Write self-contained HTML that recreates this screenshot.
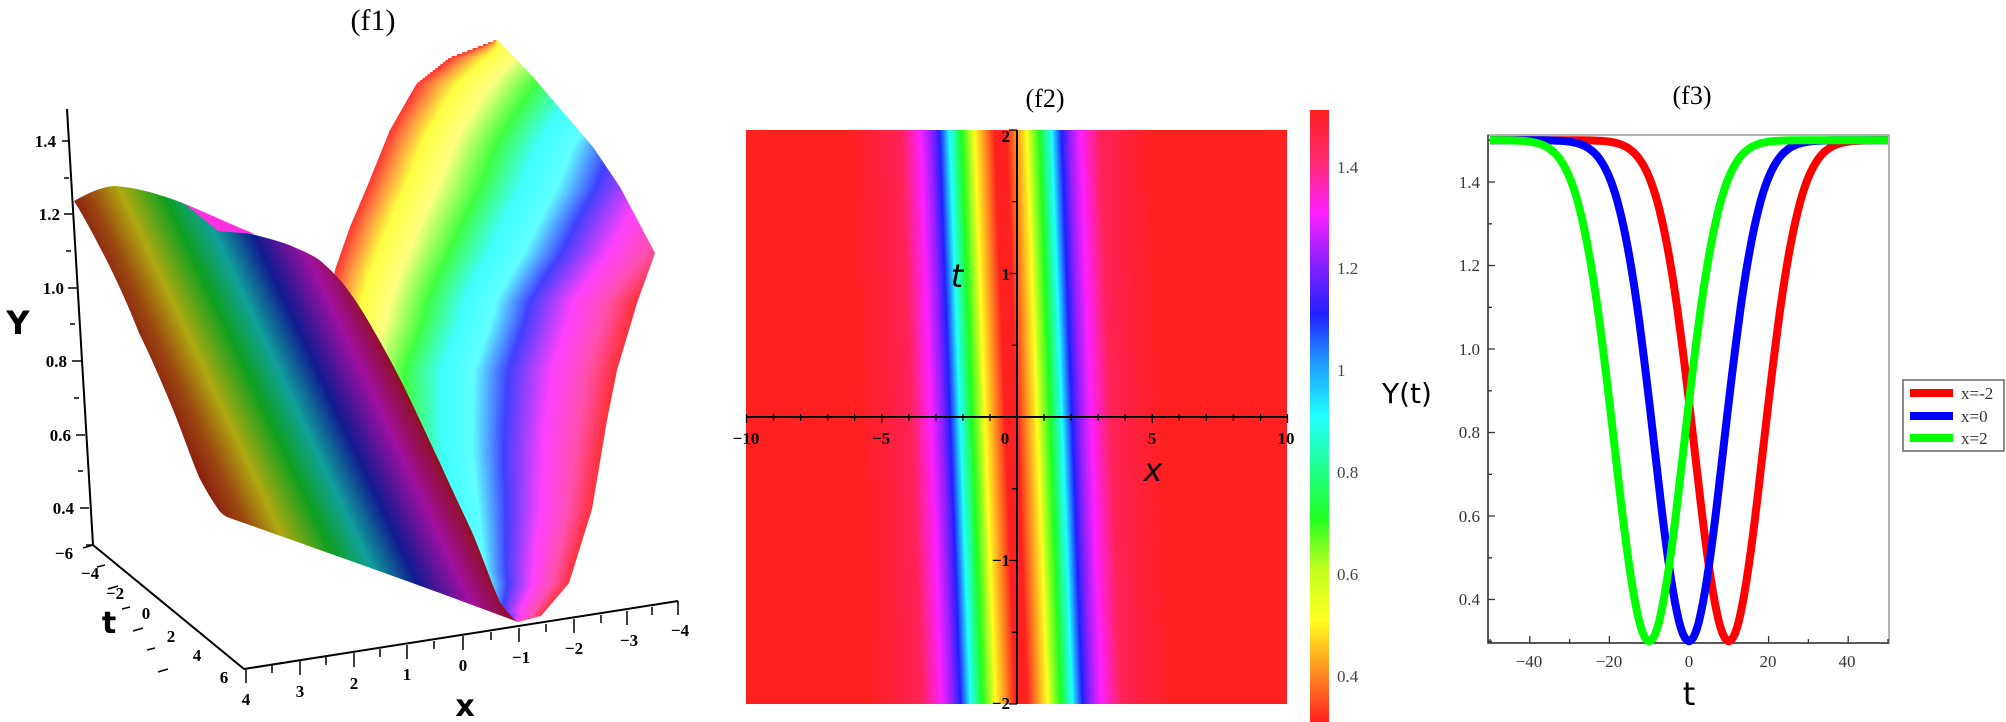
<!DOCTYPE html>
<html><head><meta charset="utf-8"><style>
html,body{margin:0;padding:0;background:#fff;width:2006px;height:722px;overflow:hidden}
svg{display:block}
.s{font-family:"Liberation Serif",serif}
.a{font-family:"DejaVu Sans","Liberation Sans",sans-serif}
</style></head><body>
<svg id="sv" width="2006" height="722" viewBox="0 0 2006 722" xmlns="http://www.w3.org/2000/svg">
<defs>
<linearGradient id="lg" gradientUnits="userSpaceOnUse" x1="140" y1="380" x2="366" y2="274">
<stop offset="0.04" stop-color="#8a1a10"/><stop offset="0.14" stop-color="#9a4a10"/><stop offset="0.25" stop-color="#b0a810"/>
<stop offset="0.40" stop-color="#10a020"/><stop offset="0.52" stop-color="#10a09a"/><stop offset="0.66" stop-color="#101a90"/>
<stop offset="0.82" stop-color="#a010a0"/><stop offset="0.95" stop-color="#901020"/></linearGradient>
<linearGradient id="rgb" x1="0" y1="0" x2="1" y2="0">
<stop offset="0" stop-color="#ff3030"/><stop offset="0.04" stop-color="#ff8040"/><stop offset="0.11" stop-color="#ffff40"/>
<stop offset="0.2" stop-color="#ffff80"/><stop offset="0.32" stop-color="#40ff40"/><stop offset="0.44" stop-color="#40ffff"/>
<stop offset="0.54" stop-color="#60ffff"/><stop offset="0.65" stop-color="#4040ff"/>
<stop offset="0.79" stop-color="#ff40ff"/><stop offset="0.9" stop-color="#ff50b0"/><stop offset="1" stop-color="#ff3030"/></linearGradient>
<clipPath id="rc"><polygon id="rcp" points=""/></clipPath>
<linearGradient id="hg" gradientUnits="userSpaceOnUse" x1="845.7" y1="0" x2="1145.7" y2="0" gradientTransform="skewX(2.096)">
<stop offset="0" stop-color="#ff2020"/><stop offset="0.167" stop-color="#ff2258"/><stop offset="0.233" stop-color="#ff20ff"/>
<stop offset="0.267" stop-color="#9a20ff"/><stop offset="0.297" stop-color="#2020ff"/><stop offset="0.33" stop-color="#20ffff"/>
<stop offset="0.37" stop-color="#20ff20"/><stop offset="0.413" stop-color="#ffff20"/><stop offset="0.447" stop-color="#ff9020"/>
<stop offset="0.48" stop-color="#ff2020"/><stop offset="0.52" stop-color="#ff2020"/><stop offset="0.553" stop-color="#ff9020"/>
<stop offset="0.587" stop-color="#ffff20"/><stop offset="0.63" stop-color="#20ff20"/><stop offset="0.67" stop-color="#20ffff"/>
<stop offset="0.703" stop-color="#2020ff"/><stop offset="0.733" stop-color="#9a20ff"/><stop offset="0.767" stop-color="#ff20ff"/>
<stop offset="0.833" stop-color="#ff2258"/><stop offset="1" stop-color="#ff2020"/></linearGradient>
<linearGradient id="cb" x1="0" y1="0" x2="0" y2="1">
<stop offset="0" stop-color="#ff2020"/><stop offset="0.083" stop-color="#ff2a70"/><stop offset="0.167" stop-color="#ff20ff"/>
<stop offset="0.25" stop-color="#8a20ff"/><stop offset="0.333" stop-color="#2020ff"/><stop offset="0.417" stop-color="#20a0ff"/>
<stop offset="0.5" stop-color="#20ffff"/><stop offset="0.583" stop-color="#20ff90"/><stop offset="0.667" stop-color="#20ff20"/>
<stop offset="0.75" stop-color="#c0ff20"/><stop offset="0.833" stop-color="#ffff20"/><stop offset="0.917" stop-color="#ff9020"/>
<stop offset="1" stop-color="#ff2020"/></linearGradient>
</defs>

<!-- f1 -->
<text x="373" y="30" class="s" font-size="30" text-anchor="middle">(f1)</text>
<g id="rs" clip-path="url(#rc)"></g>
<path d="M74,201 C90,192 104,186 116,186 C140,188 165,196 185,204 C200,212 210,220 218,227 C235,230 248,233 259,236 C275,240 288,244 296,248 C310,254 318,258 324,264 C333,272 338,278 342,282 C352,295 362,310 370,324 C385,350 397,372 407,393 C420,420 430,442 440,463 C452,490 462,510 472,532 C482,555 492,585 500,602 C507,612 512,618 518,622 C420,585 320,550 227,517 C222,514 220,512 218,509 C210,497 204,487 199,477 C190,455 183,435 176,417 C163,385 150,355 139,333 C128,305 118,283 106,259 C96,240 86,220 74,201 Z" fill="url(#lg)"/>
<path d="M185,204 C205,212 225,222 255,234 L230,232 L218,231 Z" fill="#ff30e0"/>
<g stroke="#000" stroke-width="2" fill="none">
<path d="M67,109 L93,545 L244,669 L678,601"/>
</g>
<g stroke="#000" stroke-width="1.5">
<path d="M62,141h8M64,178h5M64,214h9M66,251h5M68,288h9M70,324h5M72,361h9M74,398h5M76,435h9M78,471h5M80,508h9M86,545h7"/>
<path d="M93,545l-10,3M105,565l-8,2M118,586l-10,3M130,607l-8,2M143,628l-10,3M155,648l-8,2M168,669l-10,3"/>
<path d="M246,669v14M272,665v8M300,661v14M326,657v8M354,653v14M380,649v8M407,645v14M434,641v8M463,636v14M491,632v8M519,628v14M546,624v8M574,619v14M601,615v8M627,611v14M652,607v8M678,601v14"/>
</g>
<g class="s" font-size="17" font-weight="bold" fill="#000">
<text x="56" y="147" text-anchor="end">1.4</text><text x="60" y="220" text-anchor="end">1.2</text>
<text x="64" y="294" text-anchor="end">1.0</text><text x="67" y="367" text-anchor="end">0.8</text>
<text x="71" y="441" text-anchor="end">0.6</text><text x="74" y="514" text-anchor="end">0.4</text>
<text x="64" y="559" text-anchor="middle">−6</text><text x="90" y="579" text-anchor="middle">−4</text>
<text x="115" y="599" text-anchor="middle">−2</text><text x="146" y="619" text-anchor="middle">0</text>
<text x="171" y="642" text-anchor="middle">2</text><text x="197" y="661" text-anchor="middle">4</text>
<text x="224" y="683" text-anchor="middle">6</text>
<text x="246" y="705" text-anchor="middle">4</text><text x="300" y="697" text-anchor="middle">3</text>
<text x="354" y="689" text-anchor="middle">2</text><text x="407" y="680" text-anchor="middle">1</text>
<text x="463" y="671" text-anchor="middle">0</text><text x="521" y="663" text-anchor="middle">−1</text>
<text x="574" y="654" text-anchor="middle">−2</text><text x="629" y="646" text-anchor="middle">−3</text>
<text x="680" y="636" text-anchor="middle">−4</text>
</g>
<g class="a" font-weight="bold" fill="#000">
<text x="18" y="334" font-size="32" text-anchor="middle">Y</text>
<text x="109" y="633" font-size="30" text-anchor="middle">t</text>
<text x="465" y="716" font-size="30" text-anchor="middle">x</text>
</g>

<!-- f2 -->
<text x="1045" y="107" class="s" font-size="26" text-anchor="middle">(f2)</text>
<rect x="746" y="130" width="541" height="574" fill="url(#hg)"/>
<rect x="1310" y="110" width="19" height="612" fill="url(#cb)"/>
<g stroke="#000" stroke-width="2"><path d="M746,417H1287M1017,130V704"/></g>
<g stroke="#000" stroke-width="1.3" id="f2t"></g>
<g class="s" font-size="17" font-weight="bold" fill="#000">
<text x="746" y="444" text-anchor="middle">−10</text><text x="881" y="444" text-anchor="middle">−5</text>
<text x="1005" y="444" text-anchor="middle">0</text><text x="1152" y="444" text-anchor="middle">5</text>
<text x="1286" y="444" text-anchor="middle">10</text>
<text x="1010" y="142" text-anchor="end">2</text><text x="1010" y="280" text-anchor="end">1</text>
<text x="1010" y="566" text-anchor="end">−1</text><text x="1010" y="709" text-anchor="end">−2</text>
</g>
<text x="957" y="287" class="a" font-size="32" font-style="italic" text-anchor="middle">t</text>
<text x="1153" y="481" class="a" font-size="32" font-style="italic" text-anchor="middle">x</text>
<g class="s" font-size="17" fill="#444">
<text x="1337" y="173">1.4</text><text x="1337" y="274">1.2</text><text x="1337" y="376">1</text>
<text x="1337" y="478">0.8</text><text x="1337" y="580">0.6</text><text x="1337" y="682">0.4</text>
</g>

<!-- f3 -->
<text x="1692" y="104" class="s" font-size="26" text-anchor="middle">(f3)</text>
<rect x="1488" y="135" width="401" height="508" fill="none" stroke="#999" stroke-width="1.5"/>
<path d="M1488,135V643H1889" fill="none" stroke="#333" stroke-width="1.5"/>
<g stroke="#333" stroke-width="1.3" id="f3t"></g>
<g id="curves" fill="none" stroke-width="8" stroke-linejoin="round"></g>
<g class="s" font-size="17" fill="#333">
<text x="1480" y="188" text-anchor="end">1.4</text><text x="1480" y="271" text-anchor="end">1.2</text>
<text x="1480" y="355" text-anchor="end">1.0</text><text x="1480" y="438" text-anchor="end">0.8</text>
<text x="1480" y="522" text-anchor="end">0.6</text><text x="1480" y="605" text-anchor="end">0.4</text>
<text x="1529" y="667" text-anchor="middle">−40</text><text x="1609" y="667" text-anchor="middle">−20</text>
<text x="1689" y="667" text-anchor="middle">0</text><text x="1768" y="667" text-anchor="middle">20</text>
<text x="1847" y="667" text-anchor="middle">40</text>
</g>
<text x="1382" y="403" class="a" font-size="28">Y(t)</text>
<text x="1689" y="705" class="a" font-size="32" text-anchor="middle">t</text>
<rect x="1903" y="380" width="101" height="71" fill="#fff" stroke="#666" stroke-width="1.5"/>
<g stroke-width="8"><path d="M1910,393H1953" stroke="#ff0000"/><path d="M1910,416H1953" stroke="#0000ff"/><path d="M1910,438H1953" stroke="#00ff00"/></g>
<g class="s" font-size="17" fill="#333"><text x="1961" y="399">x=-2</text><text x="1961" y="422">x=0</text><text x="1961" y="444">x=2</text></g>
</svg>
<script>
(function(){
var ns="http://www.w3.org/2000/svg";
function P(d,s,p){var e=document.createElementNS(ns,"path");e.setAttribute("d",d);e.setAttribute("stroke",s);p.appendChild(e);}
function interp(tab,y){for(var i=0;i<tab.length-1;i++){if(y<=tab[i+1][0]){var a=tab[i],b=tab[i+1];return a[1]+(b[1]-a[1])*(y-a[0])/(b[0]-a[0]);}}return tab[tab.length-1][1];}
var XL=[[39,497],[57,450],[83,417],[130,390],[187,367],[227,350],[270,335],[320,328],[370,310],[450,320],[509,360],[570,430],[622,518]];
var XLc=[[39,497],[57,450],[83,417],[130,390],[187,367],[227,350],[270,335],[320,325],[370,305],[450,320],[509,345],[570,380],[610,420],[622,470]];
var XR=[[39,497],[77,533],[147,593],[187,620],[253,655],[303,637],[370,617],[420,607],[509,592],[583,569],[616,541],[622,518]];
var FR=[[39,0.1],[77,0.3],[147,0.6],[187,0.72],[253,0.93],[300,1],[622,1]];
var pts=[];XL.forEach(function(p){pts.push(p[1]+","+p[0]);});
for(var i=XR.length-1;i>=0;i--)pts.push(XR[i][1]+","+XR[i][0]);
document.getElementById("rcp").setAttribute("points",pts.join(" "));
var rs=document.getElementById("rs");
for(var y=38;y<623;y+=2){var xl=interp(XLc,y),xr=interp(XR,y),fr=interp(FR,y);
 var w=Math.max(2,(xr-xl)/fr);var r=document.createElementNS(ns,"rect");
 r.setAttribute("x",(xl-1).toFixed(1));r.setAttribute("y",y);r.setAttribute("width",(w+2).toFixed(1));r.setAttribute("height",2.6);
 r.setAttribute("fill","url(#rgb)");rs.appendChild(r);}
var g=document.getElementById("curves");
[[10,"#ff0000"],[0,"#0000ff"],[-10,"#00ff00"]].forEach(function(c){
 var d="";for(var t=-50;t<=50.001;t+=0.5){var v=1.5-1.2*Math.exp(-Math.pow((t-c[0])/12.4,2));
 var x=1689+t*3.98,y=349-(v-1)*417.5;d+=(d?"L":"M")+x.toFixed(1)+","+y.toFixed(1);}
 P(d,c[1],g);});
var t3=document.getElementById("f3t"),d="";
for(var i=-50;i<=50;i+=10){var x=1689+i*3.98;d+="M"+x+",643v"+(i%20==0?-7:-4);}
for(var v=0.3;v<=1.51;v+=0.1){var y=349-(v-1)*417.5;d+="M1488,"+y.toFixed(1)+"h"+((Math.round(v*10)%2==0)?7:4);}
P(d,"#333",t3);
var t2=document.getElementById("f2t");d="";
for(var i=-10;i<=10;i++){var x=1017+i*27.05;d+="M"+x.toFixed(1)+",417v"+(i%5==0?6:4)+"M"+x.toFixed(1)+",417v-3";}
for(var j=-4;j<=4;j++){var y=417-j*71.75;d+="M1017,"+y+"h-"+(j%2==0?8:5);}
P(d,"#000",t2);
})();
</script>
</body></html>
